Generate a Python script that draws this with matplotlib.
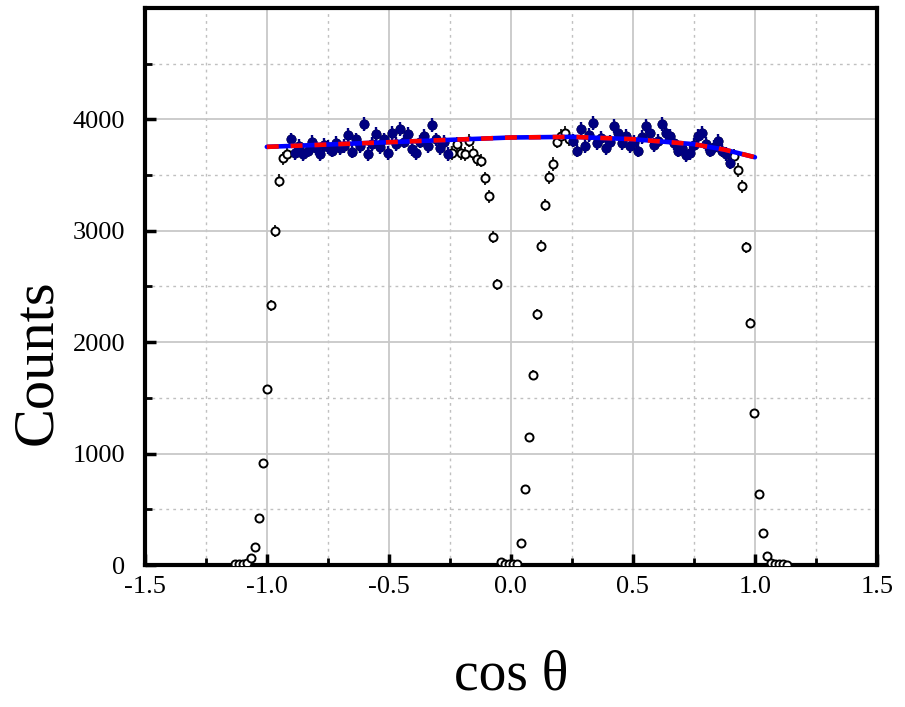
"""
Angular distribution of counts vs cos(theta): raw histogram (open circles),
selected fiducial bins (filled navy points) and the fitted shape (blue/red).
"""

import numpy as np
import matplotlib.pyplot as plt
from matplotlib.ticker import MultipleLocator

plt.rcParams.update({
    "font.family": ["Liberation Serif", "DejaVu Serif"],
    "mathtext.fontset": "stix",
})

# histogram bins in cos(theta), width 0.0165, centres from -1.130 to 1.130
BIN_WIDTH = 0.0165
N_BINS = 138

counts_neg = [
    5, 8, 12, 22, 60, 165, 420, 920, 1580, 2330,           # -1.130 .. -0.982
    3000, 3450, 3650, 3690, 3820, 3700, 3760, 3690, 3720, 3800,  # -0.965 .. -0.817
    3740, 3690, 3770, 3750, 3720, 3790, 3740, 3760, 3860, 3710,  # -0.800 .. -0.652
    3820, 3760, 3960, 3690, 3780, 3870, 3750, 3820, 3700, 3880,  # -0.635 .. -0.487
    3780, 3910, 3800, 3870, 3730, 3700, 3800, 3850, 3760, 3950,  # -0.470 .. -0.322
    3820, 3740, 3800, 3690, 3700, 3780, 3700, 3690, 3810, 3700,  # -0.305 .. -0.157
    3640, 3630, 3470, 3310, 2940, 2520, 25, 12, 10,             # -0.140 .. -0.008
]
counts_pos = [
    10, 12, 200, 680, 1150, 1710, 2250, 2860, 3230, 3480,  # 0.008 .. 0.157
    3600, 3800, 3850, 3880, 3820, 3810, 3720, 3910, 3760, 3860,  # 0.173 .. 0.322
    3970, 3790, 3830, 3740, 3800, 3940, 3880, 3790, 3850, 3760,  # 0.338 .. 0.487
    3800, 3720, 3840, 3940, 3880, 3770, 3810, 3960, 3880, 3850,  # 0.503 .. 0.652
    3790, 3720, 3740, 3680, 3700, 3770, 3850, 3880, 3780, 3720,  # 0.668 .. 0.817
    3750, 3810, 3720, 3690, 3610, 3670, 3546, 3400, 2850, 2170,  # 0.833 .. 0.982
    1360, 636, 285, 80, 20, 12, 8, 5, 3,                   # 0.998 .. 1.130
]

# fiducial region used for the fit (filled points)
SELECTED_RANGES = [(-0.905, -0.25), (0.25, 0.905)]

fit_x = [-1.0, -0.75, -0.5, -0.25, 0.0, 0.25, 0.5, 0.75, 0.875, 1.0]
fit_y = [3753, 3774, 3795, 3816, 3837, 3843, 3822, 3777, 3728, 3660]


edges = np.linspace(-BIN_WIDTH * N_BINS / 2, BIN_WIDTH * N_BINS / 2, N_BINS + 1)
x = 0.5 * (edges[:-1] + edges[1:])
y = np.array(counts_neg + counts_pos, dtype=float)
yerr = np.sqrt(y)

sel = np.zeros_like(x, dtype=bool)
for lo, hi in SELECTED_RANGES:
    sel |= (x >= lo) & (x <= hi)

fig = plt.figure(figsize=(9.05, 7.07), dpi=100)
ax = fig.add_axes([0.160, 0.2008, 0.809, 0.788])

# grid
ax.set_axisbelow(True)
ax.grid(True, which="major", color="#c8c8c8", lw=1.3, ls="-")
ax.grid(True, which="minor", color="#c0c0c0", lw=1.0, ls=(0, (2, 3)))

# all bins
ax.errorbar(x, y, yerr=yerr, fmt="o", ms=5.8, mfc="white", mec="black",
            mew=1.4, ecolor="black", elinewidth=1.2, capsize=0, zorder=3)
# selected bins
ax.errorbar(x[sel], y[sel], yerr=yerr[sel], fmt="o", ms=6.0, mfc="#000080",
            mec="#000080", ecolor="#000080", elinewidth=1.7, capsize=0,
            zorder=4)

# fit curve: blue line with red dashes on top
ax.plot(fit_x, fit_y, color="#0000ff", lw=3.3, solid_capstyle="round", zorder=5)
ax.plot(fit_x, fit_y, color="#ff0000", lw=3.3, ls=(0, (2.6, 2.6)),
        dash_capstyle="butt", zorder=6)

ax.set_xlim(-1.5, 1.5)
ax.set_ylim(0, 5000)
ax.set_xticks([-1.5, -1.0, -0.5, 0.0, 0.5, 1.0, 1.5])
ax.set_xticklabels(["-1.5", "-1.0", "-0.5", "0.0", "0.5", "1.0", "1.5"])
ax.set_yticks([0, 1000, 2000, 3000, 4000])
ax.xaxis.set_minor_locator(MultipleLocator(0.25))
ax.yaxis.set_minor_locator(MultipleLocator(500))

for s in ax.spines.values():
    s.set_linewidth(3.0)
ax.tick_params(which="both", direction="in", top=False, right=False,
               labelsize=19)
ax.tick_params(which="major", length=8, width=2.5)
ax.tick_params(which="minor", length=5, width=2.0)
ax.tick_params(axis="y", pad=14)
ax.tick_params(axis="x", pad=8)

fig.text(0.041, 0.488, "Counts", rotation=90, ha="center", va="center",
         fontsize=42)
fig.text(0.565, 0.045, "cos θ", ha="center", va="center", fontsize=40)

fig.savefig("out.png", dpi=100)
